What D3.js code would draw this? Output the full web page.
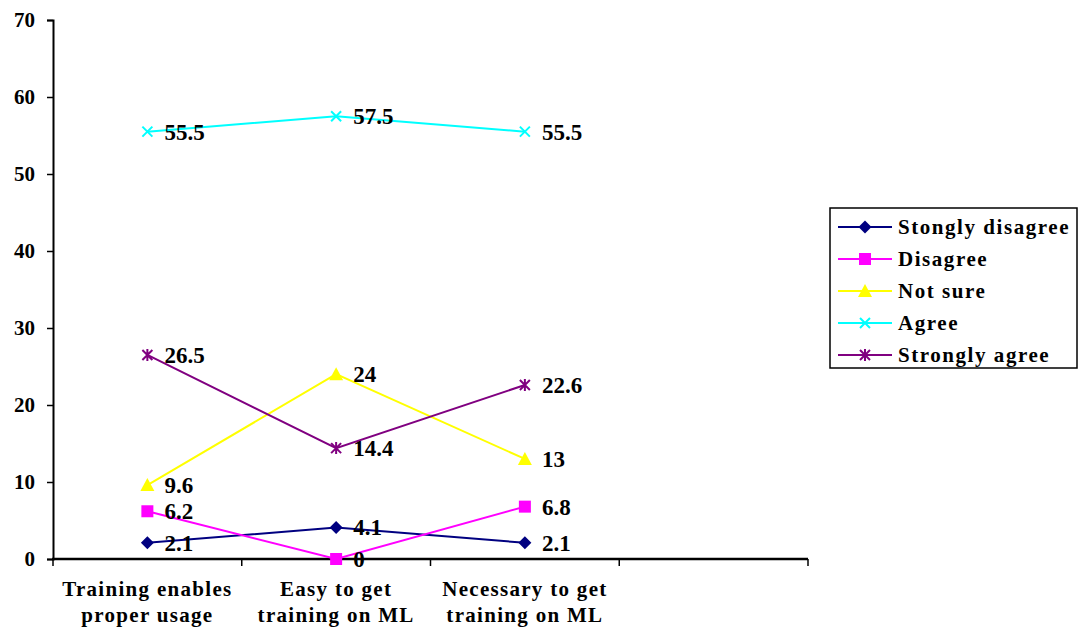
<!DOCTYPE html>
<html>
<head>
<meta charset="utf-8">
<script src="https://cdn.jsdelivr.net/npm/d3@7"></script>
<style>
  body { margin: 0; background: #fff; }
  svg { display: block; }
  text { font-family: "Liberation Serif", "Times New Roman", serif; font-weight: bold; fill: #000; }
</style>
</head>
<body>
<svg id="chart" width="1078" height="628"></svg>
<script>
// Survey responses (%) per statement
const categories = [
  ["Training enables", "proper usage"],
  ["Easy to get", "training on ML"],
  ["Necessary to get", "training on ML"],
  [""]
];
const seriesNames = ["Stongly disagree", "Disagree", "Not sure", "Agree", "Strongly agree"];
const stronglyDisagree = [2.1, 4.1, 2.1];
const disagree = [6.2, 0, 6.8];
const notSure = [9.6, 24, 13];
const agree = [55.5, 57.5, 55.5];
const stronglyAgree = [26.5, 14.4, 22.6];
const yTicks = [0, 10, 20, 30, 40, 50, 60, 70];

const colors = ["#000080", "#FF00FF", "#FFFF00", "#00FFFF", "#800080"];
const symbols = ["diamond", "square", "triangle", "cross", "star"];
const seriesValues = [stronglyDisagree, disagree, notSure, agree, stronglyAgree];

const svg = d3.select("#chart");
const plotLeft = 53, plotRight = 808, plotTop = 20, plotBottom = 559;

const x = d3.scaleBand().domain(d3.range(categories.length)).range([plotLeft, plotRight]).padding(0);
const y = d3.scaleLinear().domain([0, 70]).range([plotBottom, plotTop]);
const cx = i => x(i) + x.bandwidth() / 2;

// Y axis
const yAxis = svg.append("g").attr("transform", `translate(${plotLeft},0)`)
  .call(d3.axisLeft(y).tickValues(yTicks).tickSize(6).tickPadding(12).tickFormat(d3.format("d")));
yAxis.select(".domain").attr("stroke", "#000").attr("stroke-width", 2);
yAxis.selectAll(".tick line").attr("stroke", "#000").attr("stroke-width", 1.5);
yAxis.selectAll(".tick text").attr("font-size", 21)
  .attr("font-family", "Liberation Serif, serif").attr("font-weight", "bold").attr("dy", "0.33em");

// X axis with ticks between categories
const xAxis = svg.append("g").attr("transform", `translate(0,${plotBottom})`);
xAxis.append("line").attr("x1", plotLeft - 1).attr("x2", plotRight).attr("stroke", "#000").attr("stroke-width", 2.5);
const boundaries = d3.range(categories.length + 1).map(i => i === categories.length ? plotRight : x(i));
xAxis.selectAll("line.tk").data(boundaries).join("line").attr("class", "tk")
  .attr("x1", d => d).attr("x2", d => d).attr("y1", 0).attr("y2", 7)
  .attr("stroke", "#000").attr("stroke-width", 1.5);
xAxis.selectAll("text.cat").data(categories).join("text").attr("class", "cat")
  .attr("text-anchor", "middle").attr("font-size", 21).attr("letter-spacing", 1.3)
  .attr("x", (d, i) => cx(i))
  .selectAll("tspan").data(d => d).join("tspan")
  .attr("x", function () { return d3.select(this.parentNode).attr("x"); })
  .attr("y", (d, j) => 37 + j * 26)
  .text(d => d);

// Marker shapes in local coordinates
const markerPath = {
  diamond: "M0,-6.5L6.5,0L0,6.5L-6.5,0Z",
  square: "M-6,-6H6V6H-6Z",
  triangle: "M0,-7L7,6H-7Z",
  cross: "M-5,-5L5,5M-5,5L5,-5",
  star: "M-5,-5L5,5M-5,5L5,-5M0,-6V6"
};

function drawMarker(g, kind, color, px, py) {
  const m = g.append("path").attr("d", markerPath[kind]).attr("transform", `translate(${px},${py})`);
  if (kind === "cross" || kind === "star") {
    m.attr("fill", "none").attr("stroke", color).attr("stroke-width", 2);
  } else {
    m.attr("fill", color).attr("stroke", "none");
  }
}

const line = d3.line().x((d, i) => cx(i)).y(d => y(d));

seriesValues.forEach((vals, s) => {
  const g = svg.append("g");
  g.append("path").datum(vals).attr("d", line).attr("fill", "none")
    .attr("stroke", colors[s]).attr("stroke-width", 2);
  vals.forEach((v, i) => drawMarker(g, symbols[s], colors[s], cx(i), y(v)));
});

// Value labels
seriesValues.forEach((vals) => {
  vals.forEach((v, i) => {
    svg.append("text").attr("x", cx(i) + 17).attr("y", y(v) + 8)
      .attr("font-size", 23).text(v);
  });
});

// Legend
const lg = svg.append("g").attr("transform", "translate(830,208)");
lg.append("rect").attr("width", 247).attr("height", 160).attr("fill", "#fff")
  .attr("stroke", "#000").attr("stroke-width", 1.5);
seriesNames.forEach((name, s) => {
  const ly = 19 + s * 32;
  lg.append("line").attr("x1", 8).attr("x2", 62).attr("y1", ly).attr("y2", ly)
    .attr("stroke", colors[s]).attr("stroke-width", 2);
  drawMarker(lg, symbols[s], colors[s], 35, ly);
  lg.append("text").attr("x", 68).attr("y", ly + 7).attr("font-size", 21)
    .attr("letter-spacing", 1.55).text(name);
});
</script>
</body>
</html>
